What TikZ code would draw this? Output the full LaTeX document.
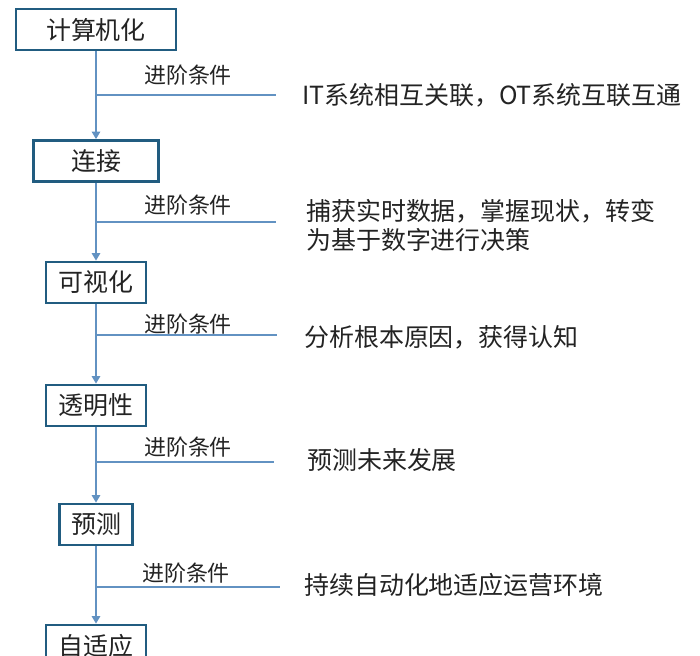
\documentclass[tikz,border=0pt]{standalone}
\usepackage{fontspec}
\setmainfont{Noto Sans CJK SC}
\usepackage{xcolor}
\definecolor{stageblue}{RGB}{33,92,128}
\definecolor{linkblue}{RGB}{98,146,194}
\definecolor{txtgray}{RGB}{35,35,35}
\usepackage{tikz}
\usetikzlibrary{arrows.meta, positioning}

\begin{document}
\begin{tikzpicture}[x=0.02cm, y=-0.02cm,
    stage/.style={draw=stageblue, line width=1.6pt, fill=white, inner sep=0pt,
                  minimum height=0.82cm, text=txtgray,
                  font=\fontsize{14.2pt}{17pt}\selectfont},
    cond/.style={text=txtgray, font=\fontsize{12.5pt}{15pt}\selectfont},
    note/.style={anchor=west, text=txtgray, align=left,
                 font=\fontsize{14.2pt}{16.5pt}\selectfont},
    flow/.style={draw=linkblue, line width=0.85pt,
                 -{Triangle[length=1.5mm, width=1.7mm]}},
    branch/.style={draw=linkblue, line width=0.85pt}]
    \clip (0,0) rectangle (700,656);
    \useasboundingbox (0,0) rectangle (700,656);
    % stages
    \node[stage, minimum width=3.2cm] (s1) at (96,29.5) {计算机化};
    \node[stage, minimum width=2.5cm] (s2) at (96,161) {连接};
    \node[stage, minimum width=2.0cm] (s3) at (96,282.5) {可视化};
    \node[stage, minimum width=2.0cm] (s4) at (96,405.5) {透明性};
    \node[stage, minimum width=1.46cm] (s5) at (96,524.5) {预测};
    \node[stage, minimum width=2.0cm] (s6) at (96,645.5) {自适应};
    \draw[flow] (s1) -- (s2);
    \draw[flow] (s2) -- (s3);
    \draw[flow] (s3) -- (s4);
    \draw[flow] (s4) -- (s5);
    \draw[flow] (s5) -- (s6);
    % branches
    \coordinate (b1) at (96,95);  \coordinate (e1) at (276,95);
    \coordinate (b2) at (96,222); \coordinate (e2) at (276,222);
    \coordinate (b3) at (96,335); \coordinate (e3) at (277,335);
    \coordinate (b4) at (96,462); \coordinate (e4) at (274,462);
    \coordinate (b5) at (96,587); \coordinate (e5) at (280,587);
    \draw[branch] (b1) -- (e1);
    \draw[branch] (b2) -- (e2);
    \draw[branch] (b3) -- (e3);
    \draw[branch] (b4) -- (e4);
    \draw[branch] (b5) -- (e5);
    \node[cond] (c1) at (188,75) {进阶条件};
    \node[cond] (c2) at (188,205) {进阶条件};
    \node[cond] (c3) at (188,324) {进阶条件};
    \node[cond] (c4) at (188,447) {进阶条件};
    \node[cond] (c5) at (186,573) {进阶条件};
    % conditions text
    \node[note] (n1) at (296,95) {IT系统相互关联，OT系统互联互通};
    \node[note] (n2) at (300,225.5) {捕获实时数据，掌握现状，转变\\为基于数字进行决策};
    \node[note] (n3) at (298,337) {分析根本原因，获得认知};
    \node[note] (n4) at (301,460) {预测未来发展};
    \node[note] (n5) at (298,585) {持续自动化地适应运营环境};
\end{tikzpicture}
\end{document}
